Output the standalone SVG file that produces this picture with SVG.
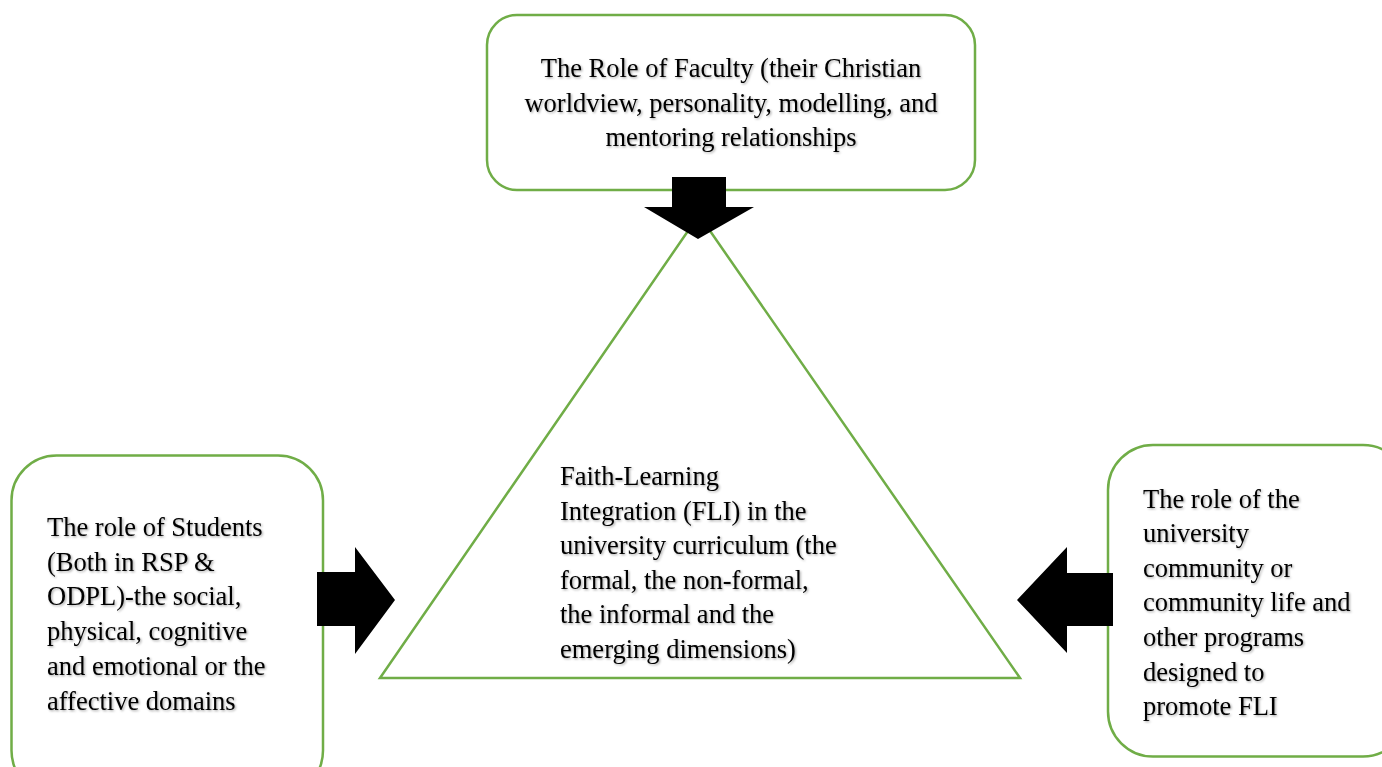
<svg xmlns="http://www.w3.org/2000/svg" width="1382" height="767" viewBox="0 0 1382 767">
<defs>
<filter id="shadow" x="-5%" y="-20%" width="110%" height="140%">
<feDropShadow dx="1.2" dy="1.2" stdDeviation="0.9" flood-color="#000" flood-opacity="0.35"/>
</filter>
</defs>
<style>
.box{fill:#fff;stroke:#70AD47;stroke-width:2.5}
.tri{fill:#fff;stroke:#70AD47;stroke-width:2.5;stroke-linejoin:miter}
.arrow{fill:#000}
.t{font-family:"Liberation Serif","Times New Roman",serif;font-size:26.5px;fill:#000;filter:url(#shadow)}
.c{text-anchor:middle}
</style>
<rect width="1382" height="767" fill="#fff"/>
<g id="center-triangle">
<polygon class="tri" points="699,215 380,678 1020,678"/>
<text class="t" x="560"><tspan x="560" y="485">Faith-Learning</tspan><tspan x="560" y="519.6">Integration (FLI) in the</tspan><tspan x="560" y="554.2">university curriculum (the</tspan><tspan x="560" y="588.8">formal, the non-formal,</tspan><tspan x="560" y="623.4">the informal and the</tspan><tspan x="560" y="658">emerging dimensions)</tspan></text>
</g>
<g id="faculty">
<rect class="box" x="487" y="15" width="488" height="175" rx="30" ry="30"/>
<text class="t c"><tspan x="731" y="77">The Role of Faculty (their Christian</tspan><tspan x="731" y="111.5">worldview, personality, modelling, and</tspan><tspan x="731" y="146">mentoring relationships</tspan></text>
</g>
<g id="students">
<rect class="box" x="11.5" y="455.5" width="311.5" height="340" rx="45" ry="45"/>
<text class="t"><tspan x="47" y="536">The role of Students</tspan><tspan x="47" y="570.7">(Both in RSP &amp;</tspan><tspan x="47" y="605.4">ODPL)-the social,</tspan><tspan x="47" y="640.1">physical, cognitive</tspan><tspan x="47" y="674.8">and emotional or the</tspan><tspan x="47" y="709.5">affective domains</tspan></text>
</g>
<g id="community">
<rect class="box" x="1108" y="445" width="300" height="311.5" rx="45" ry="45"/>
<text class="t"><tspan x="1143" y="507.7">The role of the</tspan><tspan x="1143" y="542.3">university</tspan><tspan x="1143" y="576.8">community or</tspan><tspan x="1143" y="611.4">community life and</tspan><tspan x="1143" y="646">other programs</tspan><tspan x="1143" y="680.5">designed to</tspan><tspan x="1143" y="715">promote FLI</tspan></text>
</g>
<g id="connectors">
<polygon class="arrow" points="672,177 726,177 726,207 754,207 698,239 644,207 672,207"/>
<polygon class="arrow" points="317,572 355,572 355,547 395,600 355,654 355,626 317,626"/>
<polygon class="arrow" points="1113,573 1067,573 1067,547 1017,600 1067,653 1067,626 1113,626"/>
</g>
</svg>
